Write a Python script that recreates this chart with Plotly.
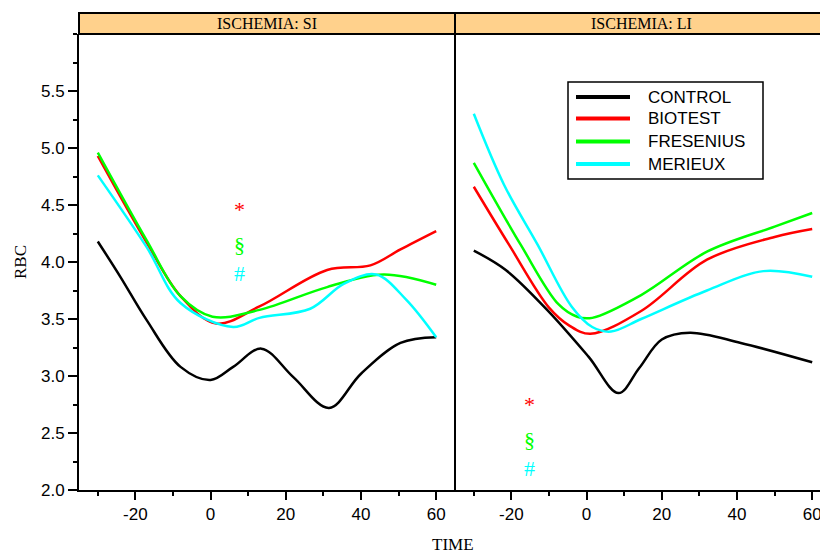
import plotly.graph_objects as go

# ---------------- data ----------------
groups = ["CONTROL", "BIOTEST", "FRESENIUS", "MERIEUX"]
colors = ["#000000", "#FF0000", "#00FF00", "#00FFFF"]
panels = ["ISCHEMIA: SI", "ISCHEMIA: LI"]

si_control_t = [-30, -24, -17, -8, 0, 6, 13.5, 22, 31.5, 40, 50.5, 60]
si_control_v = [4.18, 3.87, 3.49, 3.08, 2.965, 3.08, 3.24, 2.99, 2.72, 3.02, 3.29, 3.34]
si_biotest_t = [-30, -17, -8, 1.5, 13, 31, 42.5, 50.5, 60]
si_biotest_v = [4.93, 4.17, 3.70, 3.46, 3.61, 3.93, 3.97, 4.11, 4.27]
si_fresenius_t = [-30, -17, -8, 0.5, 13, 31, 46, 60]
si_fresenius_v = [4.96, 4.19, 3.70, 3.52, 3.58, 3.78, 3.89, 3.80]
si_merieux_t = [-30, -17, -8, 6, 13, 26.5, 35.5, 44, 52, 60]
si_merieux_v = [4.76, 4.13, 3.64, 3.43, 3.51, 3.59, 3.81, 3.89, 3.67, 3.34]

li_control_t = [-30, -21.5, -10.5, 0.5, 8.5, 14, 20, 27.5, 41, 60]
li_control_v = [4.10, 3.93, 3.58, 3.17, 2.85, 3.07, 3.32, 3.38, 3.29, 3.12]
li_biotest_t = [-30, -20.6, -10, -4.5, 1, 14.5, 32, 50, 60]
li_biotest_v = [4.66, 4.15, 3.60, 3.44, 3.37, 3.57, 4.02, 4.22, 4.29]
li_fresenius_t = [-30, -17.5, -7.5, -2.5, 1.5, 14.5, 32, 50, 60]
li_fresenius_v = [4.87, 4.15, 3.63, 3.52, 3.51, 3.71, 4.09, 4.31, 4.43]
li_merieux_t = [-30, -22, -13, -4, 1.5, 6.5, 14.5, 32, 47, 60]
li_merieux_v = [5.30, 4.68, 4.15, 3.61, 3.43, 3.39, 3.50, 3.75, 3.92, 3.87]

# significance markers
marker_texts = ["*", "§", "#"]
si_marker_x = [7.8, 7.8, 7.8]
si_marker_y = [4.46, 4.15, 3.90]
li_marker_x = [-15.1, -15.1, -15.1]
li_marker_y = [2.75, 2.44, 2.19]

x_ticks = [-20, 0, 20, 40, 60]
x_ticklabels = ["-20", "0", "20", "40", "60"]
y_ticks = [2.0, 2.5, 3.0, 3.5, 4.0, 4.5, 5.0, 5.5]
y_ticklabels = ["2.0", "2.5", "3.0", "3.5", "4.0", "4.5", "5.0", "5.5"]

# ---------------- figure ----------------
# The page body adds an 8px margin, so the figure is sized to fill the rest.
W, H = 820, 546
L, R, T, B = 71, 0, 26, 64
pw = W - L - R          # 749
ph = H - T - B          # 456
split = 376 / pw
px_per_unit = 376 / 100.0
right_range_end = -35 + (pw - 376) / px_per_unit


def pxx(px):  # screenshot x -> paper x
    return (px - 79) / pw


def pxy(py):  # screenshot y -> paper y
    return (490 - py) / ph


fig = go.Figure()

si_series = [(si_control_t, si_control_v), (si_biotest_t, si_biotest_v),
             (si_fresenius_t, si_fresenius_v), (si_merieux_t, si_merieux_v)]
li_series = [(li_control_t, li_control_v), (li_biotest_t, li_biotest_v),
             (li_fresenius_t, li_fresenius_v), (li_merieux_t, li_merieux_v)]

for i, (t, v) in enumerate(si_series):
    fig.add_trace(go.Scatter(x=t, y=v, mode="lines", name=groups[i],
                             line=dict(color=colors[i], width=2.5, shape="spline"),
                             xaxis="x", yaxis="y", showlegend=False))
for i, (t, v) in enumerate(li_series):
    fig.add_trace(go.Scatter(x=t, y=v, mode="lines", name=groups[i],
                             line=dict(color=colors[i], width=2.5, shape="spline"),
                             xaxis="x2", yaxis="y2", showlegend=False))

tickfont = dict(family="Liberation Sans, Arial, sans-serif", size=17, color="#000")
xcommon = dict(tickmode="array", tickvals=x_ticks, ticktext=x_ticklabels,
               ticks="outside", ticklen=8, tickwidth=1.5, tickcolor="#000",
               showline=True, linecolor="#000", linewidth=2, showgrid=False,
               zeroline=False, tickfont=tickfont, automargin=False,
               minor=dict(dtick=10, tick0=0, ticks="outside", ticklen=4,
                          tickwidth=1.5, tickcolor="#000", showgrid=False))

fig.update_layout(
    width=W, height=H,
    margin=dict(l=L, r=R, t=T, b=B),
    paper_bgcolor="white", plot_bgcolor="white",
    xaxis=dict(domain=[0, split], range=[-35, 65], **xcommon),
    xaxis2=dict(domain=[split, 1], anchor="y2", range=[-35, right_range_end], **xcommon),
    yaxis=dict(range=[2, 6], tickmode="array", tickvals=y_ticks, ticktext=y_ticklabels,
               ticks="outside", ticklen=9, tickwidth=1.5, tickcolor="#000",
               showline=True, linecolor="#000", linewidth=2, showgrid=False,
               zeroline=False, tickfont=tickfont, automargin=False,
               minor=dict(dtick=0.25, tick0=0, ticks="outside", ticklen=4,
                          tickwidth=1.5, tickcolor="#000", showgrid=False)),
    yaxis2=dict(range=[2, 6], anchor="x2", showticklabels=False, ticks="",
                showline=False, showgrid=False, zeroline=False, automargin=False),
    showlegend=False,
)

shapes = []
strip_h = 21 / ph
shapes.append(dict(type="rect", xref="paper", yref="paper", x0=0, x1=1.01,
                   y0=1, y1=1 + strip_h, fillcolor="#FFD18C",
                   line=dict(color="#000", width=2), layer="below"))
shapes.append(dict(type="line", xref="paper", yref="paper", x0=split, x1=split,
                   y0=0, y1=1 + strip_h, line=dict(color="#000", width=2)))

annotations = []
stripfont = dict(family="Liberation Serif, Times New Roman, serif", size=16, color="#000")
annotations.append(dict(x=split / 2, y=1 + strip_h / 2, xref="paper", yref="paper",
                        text=panels[0], showarrow=False, font=stripfont,
                        xanchor="center", yanchor="middle"))
annotations.append(dict(x=(split + 1) / 2, y=1 + strip_h / 2, xref="paper", yref="paper",
                        text=panels[1], showarrow=False, font=stripfont,
                        xanchor="center", yanchor="middle"))
titlefont = dict(family="Liberation Serif, Times New Roman, serif", size=17, color="#000")
annotations.append(dict(x=pxx(453), y=pxy(544), xref="paper", yref="paper",
                        text="TIME", showarrow=False, font=titlefont,
                        xanchor="center", yanchor="middle"))
annotations.append(dict(x=pxx(20), y=0.5, xref="paper", yref="paper",
                        text="RBC", showarrow=False, font=titlefont, textangle=-90,
                        xanchor="center", yanchor="middle"))

markerfont_base = "Liberation Serif, Times New Roman, serif"
for k, txt in enumerate(marker_texts):
    c = colors[k + 1]
    annotations.append(dict(x=si_marker_x[k], y=si_marker_y[k], xref="x", yref="y",
                            text=txt, showarrow=False,
                            font=dict(family=markerfont_base, size=22, color=c)))
    annotations.append(dict(x=li_marker_x[k], y=li_marker_y[k], xref="x2", yref="y2",
                            text=txt, showarrow=False,
                            font=dict(family=markerfont_base, size=22, color=c)))

# custom legend box
legend_shapes = [dict(type="rect", xref="paper", yref="paper", x0=pxx(568), x1=pxx(763),
                      y0=pxy(179), y1=pxy(82), line=dict(color="#000", width=1.5),
                      fillcolor="white")]
entry_py = [97, 118.5, 141.5, 164]
legfont = dict(family="Liberation Sans, Arial, sans-serif", size=17, color="#000")
for i, name in enumerate(groups):
    yy = pxy(entry_py[i])
    legend_shapes.append(dict(type="line", xref="paper", yref="paper",
                              x0=pxx(576), x1=pxx(630), y0=yy, y1=yy,
                              line=dict(color=colors[i], width=4)))
    annotations.append(dict(x=pxx(646), y=yy, xref="paper", yref="paper",
                            text=name, showarrow=False, font=legfont,
                            xanchor="left", yanchor="middle"))
fig.update_layout(shapes=shapes + legend_shapes, annotations=annotations)

fig.write_html("out.html")
